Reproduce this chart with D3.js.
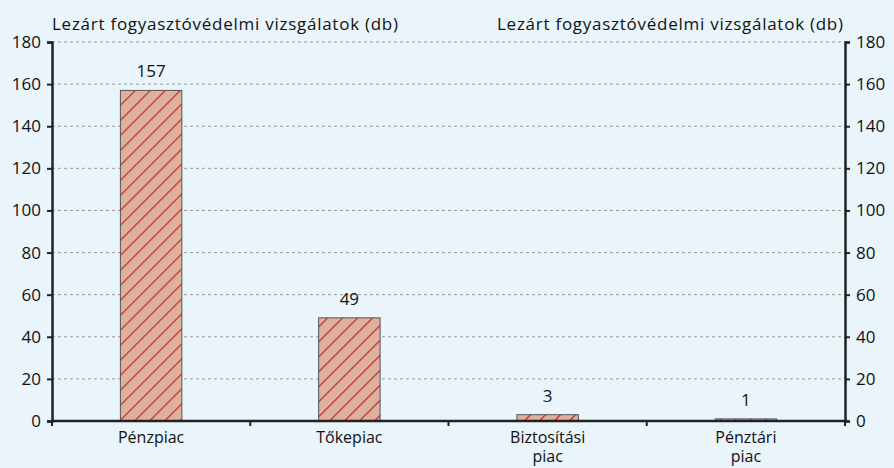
<!DOCTYPE html>
<html>
<head>
<meta charset="utf-8">
<script src="https://d3js.org/d3.v7.min.js"></script>
<style>
  body { margin: 0; background: #eaf4fb; }
  svg { display: block; }
  text { font-family: "Open Sans", sans-serif; fill: #111; }
</style>
</head>
<body>
<svg id="chart" width="894" height="468"></svg>
<script>
// data
var categories = [["Pénzpiac"], ["Tőkepiac"], ["Biztosítási", "piac"], ["Pénztári", "piac"]];
var values = [157, 49, 3, 1];
var yTicks = [0, 20, 40, 60, 80, 100, 120, 140, 160, 180];
var axisTitle = "Lezárt fogyasztóvédelmi vizsgálatok (db)";

var svg = d3.select("#chart"),
    mLeft = 52, mRight = 845, mTop = 42, mBottom = 421,
    fs = "17px";

svg.append("rect").attr("width", 894).attr("height", 468).attr("fill", "#eaf4fb");

var defs = svg.append("defs");
var pat = defs.append("pattern")
    .attr("id", "hatch")
    .attr("patternUnits", "userSpaceOnUse")
    .attr("width", 10.6).attr("height", 10.6)
    .attr("patternTransform", "rotate(45)");
pat.append("rect").attr("width", 10.6).attr("height", 10.6).attr("fill", "#e0b09e");
pat.append("line").attr("x1", 0).attr("y1", 0).attr("x2", 0).attr("y2", 10.6)
    .attr("stroke", "#b52a25").attr("stroke-width", 2.4);

var x = d3.scaleBand()
    .domain(categories.map(function(d, i) { return i; }))
    .range([mLeft, mRight])
    .paddingInner(0.69).paddingOuter(0.345);

var band = d3.scaleBand().domain(x.domain()).range([mLeft, mRight]);

var y = d3.scaleLinear().domain([0, 180]).range([mBottom, mTop]);

// grid
svg.append("g").selectAll("line")
  .data(yTicks.filter(function(d) { return d > 0; }))
  .enter().append("line")
    .attr("x1", mLeft).attr("x2", mRight)
    .attr("y1", function(d) { return y(d); }).attr("y2", function(d) { return y(d); })
    .attr("stroke", "#9a9a9a").attr("stroke-width", 1)
    .attr("stroke-dasharray", "3,3");

// bars
svg.append("g").selectAll("rect")
  .data(values)
  .enter().append("rect")
    .attr("x", function(d, i) { return x(i); })
    .attr("y", function(d) { return y(d); })
    .attr("width", x.bandwidth())
    .attr("height", function(d) { return mBottom - y(d); })
    .attr("fill", "url(#hatch)")
    .attr("stroke", "#555").attr("stroke-width", 1);

svg.append("g").selectAll("text")
  .data(values)
  .enter().append("text")
    .attr("x", function(d, i) { return x(i) + x.bandwidth() / 2; })
    .attr("y", function(d) { return y(d) - 13; })
    .attr("text-anchor", "middle")
    .style("font-size", fs)
    .text(function(d) { return d; });

// axes
var yl = svg.append("g").attr("transform", "translate(" + mLeft + ",0)")
    .call(d3.axisLeft(y).tickValues(yTicks).tickSize(5).tickPadding(6));
var yr = svg.append("g").attr("transform", "translate(" + mRight + ",0)")
    .call(d3.axisRight(y).tickValues(yTicks).tickSize(5).tickPadding(6));
[yl, yr].forEach(function(a) {
  a.select(".domain").attr("stroke", "#222").attr("stroke-width", 2.5);
  a.selectAll(".tick line").attr("stroke", "#222").attr("stroke-width", 2);
  a.selectAll(".tick text").style("font-size", fs).attr("fill", "#111")
    .style("font-family", "'Open Sans', sans-serif");
});

// x axis
svg.append("line").attr("x1", mLeft).attr("x2", mRight)
    .attr("y1", mBottom).attr("y2", mBottom)
    .attr("stroke", "#222").attr("stroke-width", 2.5);
svg.append("g").selectAll("line")
  .data(d3.range(categories.length + 1))
  .enter().append("line")
    .attr("x1", function(i) { return mLeft + i * band.bandwidth(); })
    .attr("x2", function(i) { return mLeft + i * band.bandwidth(); })
    .attr("y1", mBottom).attr("y2", mBottom + 5)
    .attr("stroke", "#222").attr("stroke-width", 2);

var xl = svg.append("g").selectAll("text")
  .data(categories)
  .enter().append("text")
    .attr("x", function(d, i) { return band(i) + band.bandwidth() / 2; })
    .attr("y", 443)
    .attr("text-anchor", "middle")
    .style("font-size", "16px");
xl.selectAll("tspan")
  .data(function(d) { return d; })
  .enter().append("tspan")
    .attr("x", function() { return d3.select(this.parentNode).attr("x"); })
    .attr("dy", function(d, i) { return i ? 19 : 0; })
    .text(function(d) { return d; });

// titles
svg.append("text").attr("x", 52).attr("y", 30).style("font-size", fs)
    .attr("textLength", 346).text(axisTitle);
svg.append("text").attr("x", 497).attr("y", 30).style("font-size", fs)
    .attr("textLength", 346).text(axisTitle);
</script>
</body>
</html>
